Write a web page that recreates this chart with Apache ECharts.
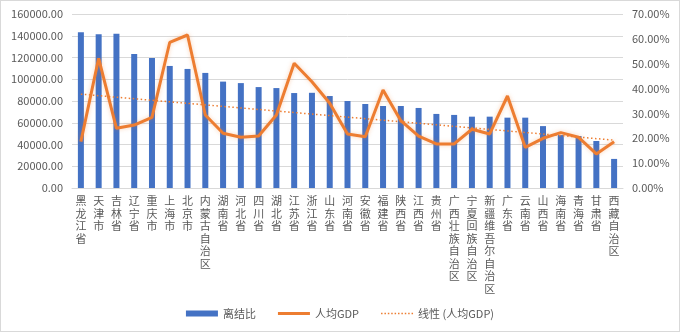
<!DOCTYPE html>
<html>
<head>
<meta charset="utf-8">
<script src="https://cdn.jsdelivr.net/npm/echarts@6/dist/echarts.min.js"></script>
<style>
html,body{margin:0;padding:0;background:#fff;}
#c{width:680px;height:332px;box-sizing:border-box;border:1px solid #d9d9d9;}
</style>
</head>
<body>
<div id="c"></div>
<script>
const categories = ['黑龙江省','天津市','吉林省','辽宁省','重庆市','上海市','北京市','内蒙古自治区','湖南省','河北省','四川省','湖北省','江苏省','浙江省','山东省','河南省','安徽省','福建省','陕西省','江西省','贵州省','广西壮族自治区','宁夏回族自治区','新疆维吾尔自治区','广东省','云南省','山西省','海南省','青海省','甘肃省','西藏自治区'];
// 离结比 (%), right axis
const ratioValues = [62.7,61.9,62.1,53.9,52.3,49.1,47.9,46.3,42.8,42.2,40.6,40.2,38.2,38.3,37.0,35.0,33.8,33.0,33.0,32.2,29.8,29.4,28.7,28.7,28.3,28.3,24.9,21.3,20.9,18.9,11.7];
// 人均GDP, left axis
const gdpValues = [42600,119300,54900,57900,65000,134000,140700,67100,50300,46600,47800,67100,114700,97700,77900,49700,47200,90100,61900,47800,40500,40500,54000,49700,84600,37400,45700,50900,46600,31300,42600];
// 线性 (人均GDP): endpoints
const trendStart = 86300;
const trendEnd = 44000;
const leftTicks = {min:0, max:160000, interval:20000};
const rightTicks = {min:0, max:70, interval:10};

const trendData = categories.map((c,i)=> i===0 ? trendStart : (i===categories.length-1 ? trendEnd : null));
const font = '"Noto Sans CJK SC", "Noto Sans", sans-serif';

// legend icons (32x6 box)
const speck = 'M0,0h0.01v0.01h-0.01z M31.99,5.99h0.01v0.01h-0.01z ';
const lineIcon = 'path://' + speck + 'M0,1.5h32v3h-32z';
let dots = '';
for (let x = 0; x < 32; x += 3.4) dots += 'M' + x.toFixed(2) + ',2.3h1.5v1.5h-1.5z ';
const dotIcon = 'path://' + speck + dots;

const chart = echarts.init(document.getElementById('c'), null, {renderer:'canvas'});
chart.setOption({
  animation:false,
  textStyle:{fontFamily:font},
  grid:{left:71, right:56, top:13, bottom:143},
  legend:{
    left:'center', top:302, itemGap:22, itemWidth:32, itemHeight:6,
    textStyle:{color:'#595959', fontSize:11, fontFamily:font},
    data:[
      {name:'离结比', icon:'rect'},
      {name:'人均GDP', icon:lineIcon},
      {name:'线性 (人均GDP)', icon:dotIcon}
    ]
  },
  xAxis:{
    type:'category', data:categories, boundaryGap:true,
    axisLine:{lineStyle:{color:'#d9d9d9'}},
    axisTick:{show:false},
    axisLabel:{
      interval:0, color:'#595959', fontSize:11, lineHeight:12.5, margin:7,
      verticalAlign:'top',
      formatter:v=>v.split('').join('\n')
    }
  },
  yAxis:[
    {type:'value', min:leftTicks.min, max:leftTicks.max, interval:leftTicks.interval,
     axisLabel:{color:'#595959', fontSize:11, margin:9, formatter:v=>v.toFixed(2)},
     splitLine:{lineStyle:{color:'#d9d9d9'}}, axisLine:{show:false}, axisTick:{show:false}},
    {type:'value', min:rightTicks.min, max:rightTicks.max, interval:rightTicks.interval,
     axisLabel:{color:'#595959', fontSize:11, margin:9, formatter:v=>v.toFixed(2)+'%'},
     splitLine:{show:false}, axisLine:{show:false}, axisTick:{show:false}}
  ],
  series:[
    {name:'离结比', type:'bar', yAxisIndex:1, data:ratioValues, barWidth:6,
     itemStyle:{color:'#4472C4'}},
    {name:'人均GDP', type:'line', yAxisIndex:0, data:gdpValues, symbol:'none',
     lineStyle:{color:'#ED7D31', width:3, shadowColor:'rgba(237,125,49,0.35)', shadowBlur:4},
     itemStyle:{color:'#ED7D31'}},
    {name:'线性 (人均GDP)', type:'line', yAxisIndex:0, data:trendData, connectNulls:true, symbol:'none',
     lineStyle:{color:'#ED7D31', width:1.5, type:[1.5,2.5]},
     itemStyle:{color:'#ED7D31'}}
  ]
});
</script>
</body>
</html>
